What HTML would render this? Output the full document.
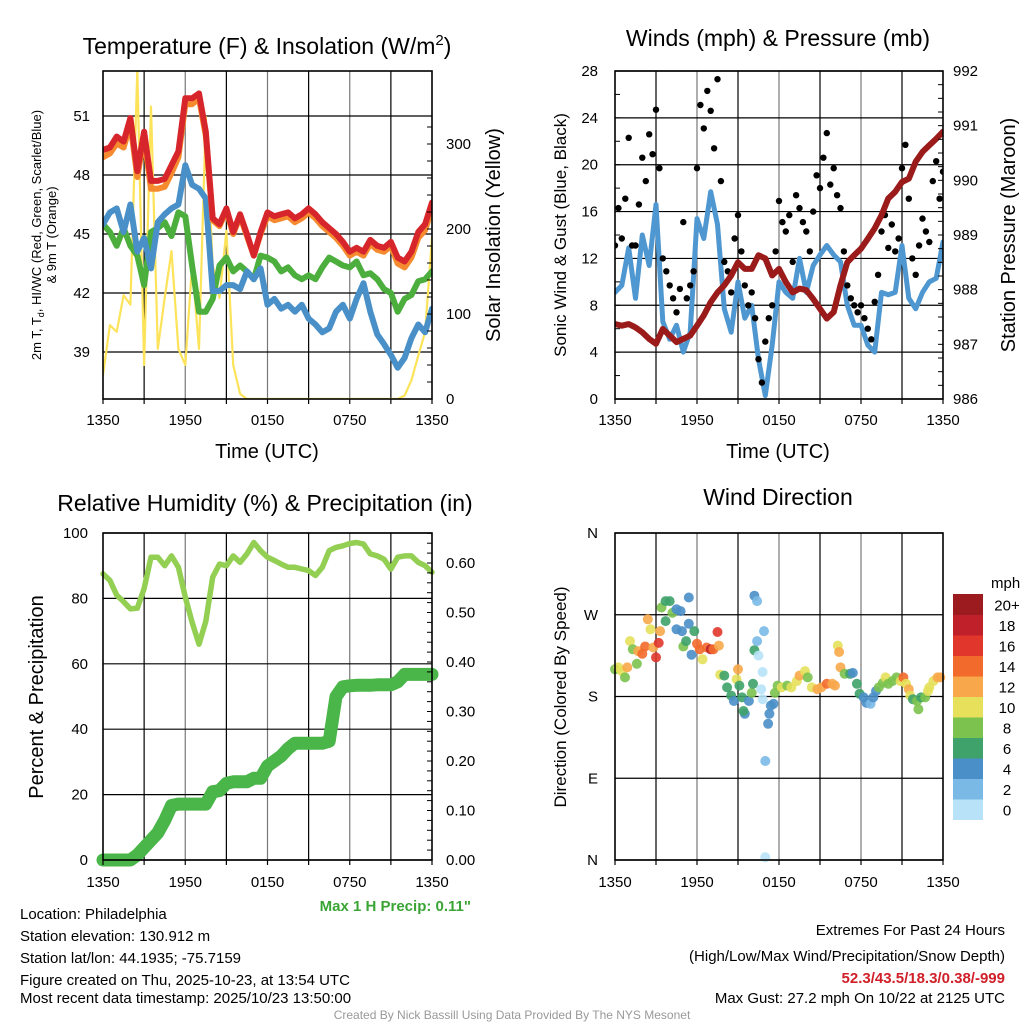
<!DOCTYPE html>
<html><head><meta charset="utf-8">
<style>
html,body{margin:0;padding:0;background:#fff;}
svg{display:block;font-family:"Liberation Sans",Arial,sans-serif;}
</style></head>
<body>
<svg id="chart" width="1024" height="1024" viewBox="0 0 1024 1024" xmlns="http://www.w3.org/2000/svg">
<defs>
<clipPath id="clip1"><rect x="103" y="71" width="329" height="328"/></clipPath>
<clipPath id="clip2"><rect x="615" y="71" width="328" height="328"/></clipPath>
</defs>
<rect x="0" y="0" width="1024" height="1024" fill="#fff"/>
<g id="g1"></g>
<g id="g2"></g>
<g id="g3"></g>
<g id="g4"></g>
<g id="gt">
<text x="267" y="54" font-size="23" text-anchor="middle">Temperature (F) &amp; Insolation (W/m<tspan dy="-9" font-size="15">2</tspan><tspan dy="9">)</tspan></text>
<text x="778" y="46" font-size="23" text-anchor="middle">Winds (mph) &amp; Pressure (mb)</text>
<text x="265" y="511" font-size="23" text-anchor="middle">Relative Humidity (%) &amp; Precipitation (in)</text>
<text x="778" y="505" font-size="23" text-anchor="middle">Wind Direction</text>
<text font-size="13" text-anchor="middle" transform="translate(41,235) rotate(-90)">2m T, T<tspan font-size="9" dy="3">d</tspan><tspan dy="-3">, HI/WC (Red, Green, Scarlet/Blue)</tspan></text>
<text font-size="13" text-anchor="middle" transform="translate(56,235) rotate(-90)">&amp; 9m T (Orange)</text>
<text font-size="20" text-anchor="middle" transform="translate(500,235) rotate(-90)">Solar Insolation (Yellow)</text>
<text font-size="17" text-anchor="middle" transform="translate(566,235) rotate(-90)">Sonic Wind &amp; Gust (Blue, Black)</text>
<text font-size="20" text-anchor="middle" transform="translate(1015,235) rotate(-90)">Station Pressure (Maroon)</text>
<text font-size="20" text-anchor="middle" transform="translate(43,697) rotate(-90)">Percent &amp; Precipitation</text>
<text font-size="17" text-anchor="middle" transform="translate(566,697) rotate(-90)">Direction (Colored By Speed)</text>
<text x="267" y="458" font-size="20" text-anchor="middle">Time (UTC)</text>
<text x="778" y="458" font-size="20" text-anchor="middle">Time (UTC)</text>
<text x="471" y="911" font-size="15" font-weight="bold" fill="#3aa535" text-anchor="end">Max 1 H Precip: 0.11"</text>
<text x="20" y="919" font-size="15">Location: Philadelphia</text>
<text x="20" y="941" font-size="15">Station elevation: 130.912 m</text>
<text x="20" y="963" font-size="15">Station lat/lon: 44.1935; -75.7159</text>
<text x="20" y="985" font-size="15">Figure created on Thu, 2025-10-23, at 13:54 UTC</text>
<text x="20" y="1003" font-size="15">Most recent data timestamp: 2025/10/23 13:50:00</text>
<text x="1005" y="935" font-size="15" text-anchor="end">Extremes For Past 24 Hours</text>
<text x="1005" y="961" font-size="15" text-anchor="end">(High/Low/Max Wind/Precipitation/Snow Depth)</text>
<text x="1005" y="983" font-size="15" font-weight="bold" fill="#d0202a" text-anchor="end">52.3/43.5/18.3/0.38/-999</text>
<text x="1005" y="1003" font-size="15" text-anchor="end">Max Gust: 27.2 mph On 10/22 at 2125 UTC</text>
<text x="512" y="1019" font-size="12" fill="#999" text-anchor="middle">Created By Nick Bassill Using Data Provided By The NYS Mesonet</text>
</g>
</svg>
<script>
// ---------- DATA ----------
const xTickLabels = ["1350","1950","0150","0750","1350"];
const tempTicks = [39,42,45,48,51];
const solarTicks = [0,100,200,300];
const windTicks = [0,4,8,12,16,20,24,28];
const pressTicks = [986,987,988,989,990,991,992];
const rhTicks = [0,20,40,60,80,100];
const precipTicks = [0,0.1,0.2,0.3,0.4,0.5,0.6];
const dirTicks = ["N","E","S","W","N"];
const speedBins = ["0","2","4","6","8","10","12","14","16","18","20+"];
const speedColors = ["#b8e2f8","#7ab9e6","#4a8fc8","#3ea26a","#7bc24e","#e6e05a","#f8a84a","#f26a2c","#e0362b","#c0202a","#9b1b1e"];

// half-hourly series (hours 0..24 since 1350 UTC)
const tempRed = [49.27,49.4,49.95,49.7,50.9,48.2,50.2,47.7,47.7,47.8,48.5,49.2,51.9,51.9,52.15,50.2,45.8,45.5,46.3,45.1,46.0,45.0,43.9,45.1,46.1,45.9,46.0,46.1,45.8,46.0,46.3,46.0,45.6,45.3,45.0,44.6,44.1,44.3,44.1,44.7,44.4,44.3,44.6,43.8,43.6,44.1,45.1,45.5,46.6];
const temp9m = [48.9,49.1,49.6,49.4,50.6,47.9,49.9,47.3,47.3,47.4,48.1,48.9,51.6,51.6,51.9,50.0,45.7,45.4,46.2,45.0,45.9,44.9,43.9,45.0,45.9,45.7,45.8,45.9,45.6,45.8,46.1,45.8,45.4,45.1,44.8,44.4,43.9,44.1,43.9,44.5,44.2,44.1,44.4,43.5,43.3,43.8,44.8,45.2,46.3];
const dewGreen = [45.5,45.1,44.4,45.3,44.4,43.9,42.4,45.1,45.3,45.6,44.9,46.1,45.9,43.4,41.05,41.05,41.7,43.4,43.8,43.1,43.4,43.1,42.7,43.9,43.8,43.6,43.1,43.3,42.9,42.7,42.9,42.7,43.3,43.8,43.6,43.4,43.3,43.6,42.9,43.0,42.7,42.2,42.0,41.05,41.7,41.9,42.6,42.7,43.1];
const tempBlue = [45.5,46.1,46.3,45.1,46.5,44.1,44.8,43.25,45.6,46.0,46.3,46.5,48.5,47.5,47.3,46.8,42.1,42.1,42.4,42.4,42.2,43.1,42.7,43.25,41.4,41.7,41.2,41.4,41.05,41.4,40.7,40.4,40.0,40.2,41.05,41.4,40.7,41.7,42.5,41.05,39.9,39.4,38.85,38.2,38.7,39.7,40.4,40.0,41.2];
const solar = [28,87,79,122,111,387,40,344,59,119,174,59,40,158,59,332,158,119,198,40,6,0,0,0,0,0,0,0,0,0,0,0,0,0,0,0,0,0,0,0,0,0,0,0,4,22,51,79,190];
const windSpeed = [9.1,9.7,12.9,8.6,14.0,11.4,16.6,6.6,5.1,6.3,4.0,5.7,15.4,13.7,17.7,14.9,7.7,5.7,10.0,6.9,8.0,3.4,0.3,4.6,10.0,9.1,8.6,12.0,9.1,11.4,12.3,13.1,12.3,11.7,8.0,6.3,6.3,4.6,4.0,9.1,8.9,9.1,13.1,8.6,7.7,9.1,10.0,10.3,13.4];
const pressure = [987.37,987.34,987.37,987.31,987.22,987.10,987.01,987.28,987.16,987.04,987.10,987.16,987.34,987.53,987.77,987.95,988.08,988.26,988.50,988.38,988.38,988.63,988.57,988.26,988.38,988.14,987.95,988.02,987.99,987.83,987.65,987.47,987.59,988.08,988.50,988.63,988.75,988.93,989.12,989.36,989.67,989.79,989.97,990.03,990.34,990.52,990.64,990.76,990.89];
// quarter-hourly gusts
const gusts = [13.1,16.3,13.7,17.1,22.3,13.1,13.1,16.6,20.6,18.6,22.6,20.9,24.7,19.7,12.0,10.9,9.7,8.6,7.4,9.4,15.1,8.6,9.7,10.9,19.7,25.1,23.1,26.3,24.6,21.4,27.3,18.6,11.7,10.9,9.1,13.7,15.7,12.6,9.7,8.0,9.1,6.9,3.4,1.4,4.9,6.9,8.0,12.6,16.9,15.1,14.3,15.7,11.7,17.4,16.3,15.1,14.3,12.6,16.0,19.1,18.0,20.6,22.7,18.3,19.7,17.4,16.3,12.6,9.7,8.6,8.0,7.4,8.0,6.9,6.0,5.1,8.3,10.6,14.3,15.7,12.9,14.9,12.6,13.7,19.7,21.7,17.1,12.0,10.6,13.1,15.4,14.3,13.4,18.6,20.3,17.1,19.4];
const rh = [87.5,85.5,81,79,76.8,77,83,92.6,92.6,90,93,89.5,80.4,72.7,66,73,86.5,90.5,90,93,91,93.6,97.1,94.6,92.6,91.6,90.5,89.5,89.5,89,88.5,87,89.5,94.6,95.6,96.1,96.8,97.1,96.6,93.6,93,92,89,92.6,93,93,91,90,88];
const precip = [0,0,0,0,0,0.01,0.025,0.04,0.055,0.08,0.11,0.113,0.113,0.113,0.113,0.113,0.138,0.14,0.155,0.158,0.158,0.158,0.165,0.165,0.19,0.2,0.21,0.225,0.236,0.236,0.236,0.236,0.236,0.24,0.33,0.35,0.352,0.353,0.353,0.353,0.354,0.354,0.354,0.36,0.375,0.375,0.375,0.375,0.375];
// wind direction scatter
const dirHours = [0,0.24,0.5,0.73,0.9,1.1,1.3,1.6,1.7,2.0,2.2,2.4,2.6,2.8,3.0,3.2,3.3,3.4,3.7,3.7,4.0,4.2,4.5,4.5,4.8,4.9,5.0,5.2,5.4,5.4,5.6,5.8,6.0,6.2,6.4,6.7,7.0,7.2,7.5,7.6,7.7,8.0,8.2,8.5,8.7,8.9,9.0,9.1,9.3,9.5,9.4,9.8,10.0,10.1,10.2,10.2,10.4,10.4,10.5,10.7,10.8,10.8,10.9,11.0,11.0,11.2,11.3,11.4,11.6,11.7,11.9,12.2,12.6,12.9,13.3,13.5,13.9,14.1,14.4,14.8,15.1,15.5,15.9,16.1,16.3,16.4,16.5,16.8,17.2,17.4,17.7,17.9,18.2,18.4,18.7,18.9,19.1,19.3,19.6,19.8,20.0,20.3,20.6,20.9,21.1,21.3,21.5,21.6,21.8,22.1,22.2,22.4,22.7,22.9,23.0,23.3,23.6,23.8];
const dirVals = [210,212,208,201,212,241,232,216,230,227,235,265,254,234,223,239,252,278,285,263,285,272,276,254,274,252,235,241,260,289,226,252,238,232,221,234,232,232,251,236,204,203,190,181,175,199,210,192,179,161,164,175,184,194,231,291,285,241,225,188,177,207,252,109,3,150,161,170,172,184,192,190,192,190,197,203,208,201,190,188,190,194,194,192,236,229,212,205,205,206,194,183,179,173,172,179,186,190,195,201,194,197,201,197,201,194,188,181,177,175,166,179,179,186,190,197,201,201];
const dirSpeeds = [8,10,10,8,12,10,8,8,12,14,14,12,10,12,16,16,12,8,6,6,6,8,4,4,4,4,8,6,4,4,4,6,14,14,10,14,18,14,16,12,10,6,6,6,4,10,12,6,6,4,6,4,8,6,6,4,2,2,0,0,0,0,2,2,0,4,4,4,4,8,8,10,8,10,10,12,10,8,10,12,12,14,12,12,10,12,12,8,6,4,6,6,4,4,2,4,4,8,8,10,8,8,8,10,14,10,12,10,6,8,8,6,8,10,10,10,12,12];

// ---------- HELPERS ----------
const NS = "http://www.w3.org/2000/svg";
function mk(parent, tag, attrs){
  const e = document.createElementNS(NS, tag);
  for (const k in attrs) e.setAttribute(k, attrs[k]);
  parent.appendChild(e);
  return e;
}
function scale(d0,d1,r0,r1){ return v => r0 + (v-d0)/(d1-d0)*(r1-r0); }
function pathFrom(xs, ys, xf, yf){
  return xs.map((x,i)=>(i?"L":"M")+xf(x).toFixed(1)+","+yf(ys[i]).toFixed(1)).join("");
}
const half = rh.map((_,i)=>i*0.5);
const quarter = gusts.map((_,i)=>i*0.25);

function frame(g, L, R, T, B, yTicksPix, pre){
  for (let k=1;k<8;k++){
    const x = L + (R-L)*k/8;
    const gl = mk(g,"line",{x1:x,y1:T,x2:x,y2:B,stroke:k%2?"#000":"#777","stroke-width":1.2});
    
    
  }
  yTicksPix.forEach(y=>{
    const gl = mk(g,"line",{x1:L,y1:y,x2:R,y2:y,stroke:"#000","stroke-width":1.2});
    
    
  });
}
function border(g,L,R,T,B,pre){
  const r = mk(g,"rect",{x:L,y:T,width:R-L,height:B-T,fill:"none",stroke:"#000","stroke-width":1.6});
  
  
  for (let k=0;k<=8;k++){
    const x = L+(R-L)*k/8;
    const t = mk(g,"line",{x1:x,y1:B,x2:x,y2:B+5,stroke:"#000","stroke-width":1.2});
    
    
  }
}
function xLabels(g,L,R,y,pre){
  xTickLabels.forEach((lab,i)=>{
    const t = mk(g,"text",{x:L+(R-L)*i/4,y:y,"font-size":15,"text-anchor":"middle"});
    t.textContent = lab;
    
    
  });
}
function yLabels(g, ticks, yf, x, anchor, fmt, pre){
  ticks.forEach(v=>{
    const t = mk(g,"text",{x:x,y:yf(v)+5,"font-size":15,"text-anchor":anchor});
    t.textContent = fmt(v);
    
    
  });
}
function minorTicks(g, d0, d1, step, yf, x, dir, pre){
  for (let v=d0; v<=d1+1e-9; v+=step){
    const y = yf(v);
    const t = mk(g,"line",{x1:x,y1:y,x2:x+dir*5,y2:y,stroke:"#000","stroke-width":1});
    
    
  }
}
function addLine(g, xs, ys, xf, yf, color, w, name){
  const p = mk(g,"path",{d:pathFrom(xs,ys,xf,yf),fill:"none",stroke:color,"stroke-width":w,"stroke-linejoin":"round","stroke-linecap":"round"});
  
  
  return p;
}

// ---------- PANEL 1 ----------
(function(){
  const g = document.getElementById("g1");
  const L=103,R=432,T=71,B=399;
  const x = scale(0,24,L,R);
  const yT = scale(39,51,352,116);
  const yS = scale(0,300,399,144);
  frame(g,L,R,T,B,tempTicks.map(yT),"temp");
  const c = mk(g,"g",{"clip-path":"url(#clip1)"});
  
  
  addLine(c,half,solar,x,yS,"#fde35a",2.2,"solar-insolation-line");
  addLine(c,half,dewGreen,x,yT,"#4cae3c",6,"dewpoint-line");
  addLine(c,half,tempBlue,x,yT,"#4a90c8",6,"temperature-blue-line");
  addLine(c,half,temp9m,x,yT,"#f58a2e",6,"temperature-9m-line");
  addLine(c,half,tempRed,x,yT,"#d7262b",6,"temperature-2m-line");
  border(g,L,R,T,B,"temp");
  xLabels(g,L,R,425,"temp");
  yLabels(g,tempTicks,yT,90,"end",v=>v,"temp-y");
  yLabels(g,solarTicks,yS,446,"start",v=>v,"solar-y");
  minorTicks(g,0,320,20,yS,R,-1,"solar");
})();

// ---------- PANEL 2 ----------
(function(){
  const g = document.getElementById("g2");
  const L=615,R=943,T=71,B=399;
  const x = scale(0,24,L,R);
  const yW = scale(0,28,399,71);
  const yP = scale(986,992,399,71);
  frame(g,L,R,T,B,windTicks.map(yW),"wind");
  const c = mk(g,"g",{"clip-path":"url(#clip2)"});
  
  
  addLine(c,half,windSpeed,x,yW,"#4f97d0",5,"wind-speed-line");
  gusts.forEach((v,i)=>{
    const d = mk(c,"circle",{cx:x(quarter[i]).toFixed(1),cy:yW(v).toFixed(1),r:3.2,fill:"#000"});
    
    
  });
  addLine(c,half,pressure,x,yP,"#9b1b1b",6,"pressure-line");
  border(g,L,R,T,B,"wind");
  xLabels(g,L,R,425,"wind");
  yLabels(g,windTicks,yW,598,"end",v=>v,"wind-y");
  yLabels(g,pressTicks,yP,953,"start",v=>v,"pressure-y");
  minorTicks(g,0,28,2,yW,L,1,"wind");
  minorTicks(g,986,992,0.25,yP,R,-1,"pressure");
})();

// ---------- PANEL 3 ----------
(function(){
  const g = document.getElementById("g3");
  const L=103,R=432,T=533,B=860;
  const x = scale(0,24,L,R);
  const yR = scale(0,100,860,533);
  const yPr = scale(0,0.6,860,563);
  frame(g,L,R,T,B,rhTicks.map(yR),"rh");
  addLine(g,half,rh,x,yR,"#93cf52",5.5,"relative-humidity-line");
  addLine(g,half,precip,x,yPr,"#4ab548",13,"precipitation-line");
  border(g,L,R,T,B,"rh");
  xLabels(g,L,R,887,"rh");
  yLabels(g,rhTicks,yR,88,"end",v=>v,"rh-y");
  yLabels(g,precipTicks,yPr,446,"start",v=>v.toFixed(2),"precip-y");
  minorTicks(g,0,0.66,0.02,yPr,R,-1,"precip");
})();

// ---------- PANEL 4 ----------
(function(){
  const g = document.getElementById("g4");
  const L=615,R=943,T=533,B=860;
  const x = scale(0,24,L,R);
  const yD = scale(0,360,860,533);
  const dirPos = [0,90,180,270,360];
  frame(g,L,R,T,B,dirPos.map(yD),"dir");
  dirVals.forEach((v,i)=>{
    const c = mk(g,"circle",{cx:x(dirHours[i]).toFixed(1),cy:yD(v).toFixed(1),r:5,fill:speedColors[Math.min(10,Math.round(dirSpeeds[i]/2))],"fill-opacity":0.9});
    
    
  });
  border(g,L,R,T,B,"dir");
  xLabels(g,L,R,887,"dir");
  dirTicks.forEach((lab,i)=>{
    const t = mk(g,"text",{x:598,y:yD(dirPos[i])+5,"font-size":15,"text-anchor":"end"});
    t.textContent = lab;
    
    
  });
  const cbT=594, cbH=20.5;
  const u = mk(g,"text",{x:991,y:588,"font-size":15});
  u.textContent = "mph";
  
  
  speedBins.forEach((lab,i)=>{
    const yy = cbT + (speedBins.length-1-i)*cbH;
    const r = mk(g,"rect",{x:953,y:yy,width:30,height:cbH+0.5,fill:speedColors[i]});
    
    
    const t = mk(g,"text",{x:1007,y:yy+cbH/2+6,"font-size":15,"text-anchor":"middle"});
    t.textContent = lab;
    
    
  });
})();
</script>
</body></html>
